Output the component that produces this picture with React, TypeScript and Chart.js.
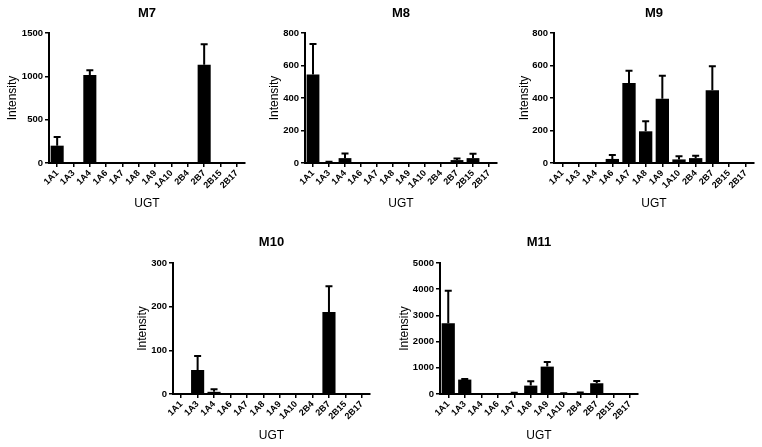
import React, { useEffect, useRef } from "react";
import { Chart, registerables } from "chart.js";

Chart.register(...registerables);

// ---------- data ----------
const categories = ["1A1", "1A3", "1A4", "1A6", "1A7", "1A8", "1A9", "1A10", "2B4", "2B7", "2B15", "2B17"];

const m7Values = [200, 0, 1015, 0, 0, 0, 0, 0, 0, 1135, 0, 0];
const m7Errors = [100, 0, 55, 0, 0, 0, 0, 0, 0, 235, 0, 0];

const m8Values = [545, 5, 30, 0, 0, 0, 0, 0, 0, 18, 30, 0];
const m8Errors = [188, 3, 28, 0, 0, 0, 0, 0, 0, 9, 27, 0];

const m9Values = [0, 0, 0, 25, 492, 195, 396, 22, 30, 447, 0, 0];
const m9Errors = [0, 0, 0, 25, 75, 62, 141, 20, 14, 149, 0, 0];

const m10Values = [0, 55, 5, 0, 0, 0, 0, 0, 0, 188, 0, 0];
const m10Errors = [0, 32, 6, 0, 0, 0, 0, 0, 0, 59, 0, 0];

const m11Values = [2700, 550, 0, 0, 30, 320, 1045, 20, 40, 410, 0, 0];
const m11Errors = [1245, 20, 0, 0, 20, 165, 178, 5, 20, 90, 0, 0];

const panelTitles = ["M7", "M8", "M9", "M10", "M11"];
const yMaxes = [1500, 800, 800, 300, 5000];
const ySteps = [500, 200, 200, 100, 1000];
const xAxisTitle = "UGT";
const yAxisTitle = "Intensity";

const panelValues = [m7Values, m8Values, m9Values, m10Values, m11Values];
const panelErrors = [m7Errors, m8Errors, m9Errors, m10Errors, m11Errors];

// ---------- layout (pixels) ----------
const layouts = [
  { cl: 5, al: 49, ar: 245, ct: 0, at: 33, ab: 163, cb: 215, tp: 6 },
  { cl: 267, al: 305, ar: 497, ct: 0, at: 33, ab: 163, cb: 215, tp: 6 },
  { cl: 517, al: 554, ar: 754, ct: 0, at: 33, ab: 163, cb: 215, tp: 6 },
  { cl: 135, al: 173, ar: 370, ct: 228, at: 263, ab: 394, cb: 447, tp: 6.5 },
  { cl: 397, al: 440, ar: 638, ct: 228, at: 263, ab: 394, cb: 447, tp: 6.5 },
];
const PAD_RIGHT = 6;
const FONT = "'Liberation Sans', Arial, sans-serif";

const errorBarPlugin = {
  id: "errorBars",
  afterDatasetsDraw(chart: any) {
    const ctx = chart.ctx;
    const ds = chart.data.datasets[0];
    const meta = chart.getDatasetMeta(0);
    const yScale = chart.scales.y;
    ctx.save();
    ctx.strokeStyle = "#000";
    ctx.lineWidth = 2;
    meta.data.forEach((bar: any, i: number) => {
      const v = ds.data[i];
      const e = ds.errors[i];
      if (!e) return;
      const yTop = yScale.getPixelForValue(v + e);
      ctx.beginPath();
      ctx.moveTo(bar.x, bar.y);
      ctx.lineTo(bar.x, yTop);
      ctx.moveTo(bar.x - 3.5, yTop);
      ctx.lineTo(bar.x + 3.5, yTop);
      ctx.stroke();
    });
    ctx.restore();
  },
};

export default function App() {
  const refs = useRef<(HTMLCanvasElement | null)[]>([]);

  useEffect(() => {
    const charts: Chart[] = [];
    layouts.forEach((L, idx) => {
      const canvas = refs.current[idx];
      if (!canvas) return;
      const yW = L.al - L.cl;
      const xH = L.cb - L.ab;
      const titleLine = 13 * 1.2;
      const titlePadBottom = L.at - L.ct - L.tp - titleLine;
      const chart = new Chart(canvas, {
        type: "bar",
        data: {
          labels: categories,
          datasets: [
            {
              data: panelValues[idx],
              errors: panelErrors[idx],
              backgroundColor: "#000",
              borderWidth: 0,
              barPercentage: 0.8,
              categoryPercentage: 1,
            } as any,
          ],
        },
        options: {
          animation: false,
          responsive: false,
          devicePixelRatio: 1,
          layout: { padding: { left: 0, top: 0, right: PAD_RIGHT, bottom: 0 } },
          plugins: {
            legend: { display: false },
            tooltip: { enabled: false },
            title: {
              display: true,
              text: panelTitles[idx],
              fullSize: false,
              color: "#000",
              font: { family: FONT, size: 13, weight: "bold" },
              padding: { top: L.tp, bottom: titlePadBottom },
            },
          },
          scales: {
            x: {
              offset: true,
              afterFit: (s: any) => {
                s.height = xH;
              },
              grid: {
                display: true,
                drawOnChartArea: false,
                drawTicks: true,
                tickLength: 4,
                offset: false,
                color: "#000",
                lineWidth: 1.5,
              },
              border: { display: true, color: "#000", width: 2 },
              ticks: {
                autoSkip: false,
                maxRotation: 45,
                minRotation: 45,
                padding: 1,
                color: "#000",
                font: { family: FONT, size: 9, weight: "bold" },
              },
              title: {
                display: true,
                text: xAxisTitle,
                color: "#000",
                font: { family: FONT, size: 12 },
                padding: { top: 0, bottom: 4 },
              },
            },
            y: {
              min: 0,
              max: yMaxes[idx],
              afterFit: (s: any) => {
                s.width = yW;
              },
              grid: {
                display: true,
                drawOnChartArea: false,
                drawTicks: true,
                tickLength: 4,
                color: "#000",
                lineWidth: 1.5,
              },
              border: { display: true, color: "#000", width: 2 },
              ticks: {
                stepSize: ySteps[idx],
                padding: 2,
                color: "#000",
                font: { family: FONT, size: 9.5, weight: "bold" },
                callback: (v: any) => String(v),
              },
              title: {
                display: true,
                text: yAxisTitle,
                color: "#000",
                font: { family: FONT, size: 12 },
                padding: { top: 0, bottom: 0 },
              },
            },
          },
        } as any,
        plugins: [errorBarPlugin],
      });
      charts.push(chart);
    });
    return () => {
      charts.forEach((c) => c.destroy());
    };
  }, []);

  return (
    <div style={{ position: "fixed", left: 0, top: 0, width: 762, height: 447, background: "#fff" }}>
      {layouts.map((L, i) => (
        <canvas
          key={i}
          ref={(el) => {
            refs.current[i] = el;
          }}
          width={L.ar + PAD_RIGHT - L.cl}
          height={L.cb - L.ct}
          style={{
            position: "absolute",
            left: L.cl,
            top: L.ct,
            width: L.ar + PAD_RIGHT - L.cl,
            height: L.cb - L.ct,
          }}
        />
      ))}
    </div>
  );
}
